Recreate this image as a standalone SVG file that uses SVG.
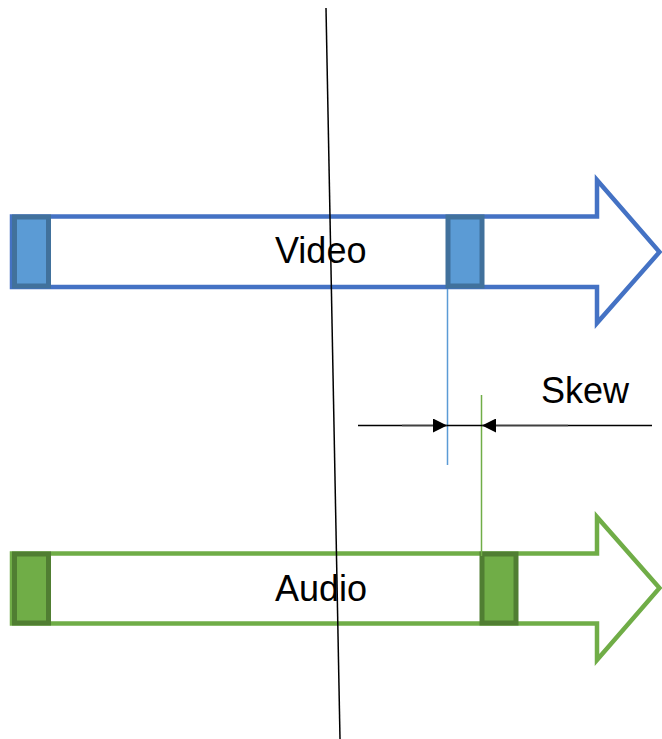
<svg xmlns="http://www.w3.org/2000/svg" width="662" height="739" viewBox="0 0 662 739">
<style>
.lbl{font-family:"Liberation Sans",Arial,sans-serif;font-size:36px;fill:#000}
.varrow{fill:#fff;stroke:#4472C4;stroke-width:4.5}
.aarrow{fill:#fff;stroke:#70AD47;stroke-width:4.5}
.vbox{fill:#5B9BD5;stroke:#41719C;stroke-width:5}
.abox{fill:#70AD47;stroke:#507E32;stroke-width:5}
</style>
<defs>
<marker id="ah" viewBox="0 0 10 10" refX="10" refY="5" markerWidth="15" markerHeight="14" markerUnits="userSpaceOnUse" orient="auto">
<path d="M0,0 L10,5 L0,10 Z" fill="#000"/>
</marker>
</defs>
<g id="video">
<polygon class="varrow" points="12,216.5 597,216.5 597,180 659.5,252 597,323 597,287 12,287"/>
<rect class="vbox" x="14.5" y="217" width="34" height="69"/>
<rect class="vbox" x="448" y="217" width="34" height="69"/>
<text class="lbl" x="275" y="263">Video</text>
</g>
<g id="audio">
<polygon class="aarrow" points="12,553.5 597,553.5 597,517 659.5,588 597,660 597,623.5 12,623.5"/>
<rect class="abox" x="14.5" y="554" width="34" height="69"/>
<rect class="abox" x="482" y="554" width="34" height="69"/>
<text class="lbl" x="275" y="601">Audio</text>
</g>
<g id="skew">
<text class="lbl" x="541" y="403">Skew</text>
</g>
<g id="connectors">
<line x1="326" y1="8" x2="340" y2="739" stroke="#000" stroke-width="1.5"/>
<line x1="447.5" y1="289" x2="447.5" y2="465" stroke="#5B9BD5" stroke-width="1.5"/>
<line x1="481.5" y1="395" x2="481.5" y2="556" stroke="#70AD47" stroke-width="1.5"/>
<line x1="358" y1="425.5" x2="652" y2="425.5" stroke="#000" stroke-width="1.5"/>
<line x1="402" y1="425.5" x2="447" y2="425.5" stroke="#404040" stroke-width="1.5" marker-end="url(#ah)"/>
<line x1="568" y1="425.5" x2="482" y2="425.5" stroke="#404040" stroke-width="1.5" marker-end="url(#ah)"/>
</g>
</svg>
